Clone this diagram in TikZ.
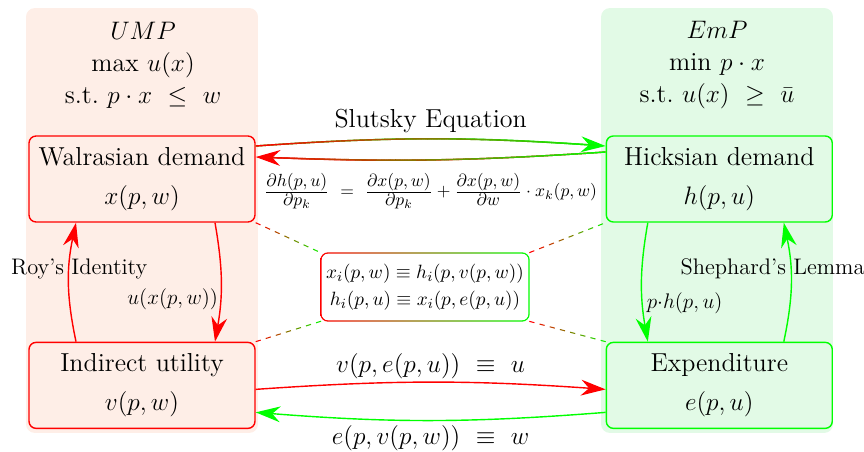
\documentclass[tikz,border=0pt]{standalone}
\usepackage{amsmath,amssymb}
\usepackage{xcolor}
\usetikzlibrary{arrows.meta,positioning,decorations.markings}

\definecolor{umpbg}{RGB}{254,238,231}
\definecolor{empbg}{RGB}{226,250,230}
\definecolor{umpline}{RGB}{255,0,0}
\definecolor{empline}{RGB}{0,255,0}

% colour running along a path, from #1 to #2
\tikzset{
  gradline/.style 2 args={postaction={decorate, decoration={markings,
      mark=between positions 0 and 0.96 step 0.5pt with {
        \pgfmathtruncatemacro\gradpct{\pgfkeysvalueof{/pgf/decoration/mark info/distance from start}/\pgfdecoratedpathlength*100}
        \draw[-, line width=0.8pt, color=#2!\gradpct!#1] (0,0) -- (0.8pt,0);}}}},
  graddash/.style 2 args={decorate, decoration={markings,
      mark=between positions 0 and 1 step 6pt with {
        \pgfmathtruncatemacro\gradpct{\pgfkeysvalueof{/pgf/decoration/mark info/distance from start}/\pgfdecoratedpathlength*100}
        \draw[-, solid, line width=0.6pt, color=#2!\gradpct!#1] (0,0) -- (3pt,0);}}},
}

\begin{document}
\begin{tikzpicture}[x=0.02cm, y=0.02cm,
      zone/.style={rounded corners=5pt, minimum width=4.64cm, minimum height=8.5cm, inner sep=0pt},
      conc/.style={draw, thick, rounded corners=4pt, minimum width=4.52cm, minimum height=1.72cm,
                   inner sep=0pt, align=center, font=\fontsize{14.8}{22}\selectfont},
      title/.style={align=center, font=\fontsize{14.8}{18.3}\selectfont},
      big/.style={text=black, font=\fontsize{14.8}{18}\selectfont},
      lbl/.style={text=black, font=\fontsize{12.8}{15}\selectfont, inner sep=1pt},
      idbox/.style={minimum width=4.16cm, minimum height=1.36cm, inner sep=0pt, align=center,
                    font=\fontsize{11}{15.4}\selectfont},
      arr/.style={-{Stealth[length=14pt, width=9pt]}, thick}
  ]
    \useasboundingbox (0,0) rectangle (864,-452);

    % the two problems
    \node[zone, fill=umpbg] (umpzone) at (142,-220.5) {};
    \node[zone, fill=empbg] (empzone) at (717,-220.5) {};
    \node[title] (umptitle) at (143,-65) {$UMP$\\ max $u(x)$\\ s.t.\ $p\cdot x\ \leq\ w$};
    \node[title] (emptitle) at (717,-65) {$EmP$\\ min $p\cdot x$\\ s.t.\ $u(x)\ \geq\ \bar{u}$};

    \node[conc, draw=umpline, fill=umpbg] (walras) at (142,-179) {Walrasian demand\\ $x(p,w)$};
    \node[conc, draw=empline, fill=empbg, right=7cm of walras] (hicks) {Hicksian demand\\ $h(p,u)$};
    \node[conc, draw=umpline, fill=umpbg, below=2.38cm of walras] (indir) {Indirect utility\\ $v(p,w)$};
    \node[conc, draw=empline, fill=empbg, below=2.38cm of hicks] (expend) {Expenditure\\ $e(p,u)$};

    % identities in the middle
    \shade[left color=umpline, right color=empline, rounded corners=4.4pt]
      (320.3,-321.7) rectangle (529.7,-252.3);
    \fill[white, rounded corners=3.6pt] (321.7,-320.3) rectangle (528.3,-253.7);
    \node[idbox] (ident) at (425,-287)
      {$x_i(p,w) \equiv h_i(p,v(p,w))$\\ $h_i(p,u) \equiv x_i(p,e(p,u))$};

    \path[graddash={umpline}{empline}] (walras.south east) -- (ident.north west);
    \path[graddash={umpline}{empline}] (ident.north east) -- (hicks.south west);
    \path[graddash={umpline}{empline}] (indir.north east) -- (ident.south west);
    \path[graddash={umpline}{empline}] (ident.south east) -- (expend.north west);

    % Slutsky
    \draw[arr, empline, gradline={umpline}{empline}]
      ([yshift=0.66cm]walras.east) to[bend left=4]
      node[midway, above=0pt, big] (slutlbl) {Slutsky Equation}
      ([yshift=0.66cm]hicks.west);
    \draw[arr, umpline, gradline={empline}{umpline}]
      ([yshift=0.54cm]hicks.west) to[bend left=3]
      node[midway, below=4pt, text=black, font=\fontsize{10.4}{12}\selectfont] (slutform)
        {$\frac{\textstyle\partial h(p,u)}{\textstyle\partial p_k}\ =\ \frac{\textstyle\partial x(p,w)}{\textstyle\partial p_k} + \frac{\textstyle\partial x(p,w)}{\textstyle\partial w}\cdot x_k(p,w)$}
      ([yshift=0.44cm]walras.east);

    % within each problem
    \draw[arr, umpline] ([xshift=-1.32cm]indir.north) to[bend left=12]
      node[pos=.62, lbl, xshift=0.2cm] (roylbl) {Roy's Identity}
      ([xshift=-1.32cm]walras.south);
    \draw[arr, umpline] ([xshift=1.46cm]walras.south) to[bend left=10]
      node[pos=.65, lbl, anchor=east] (utillbl) {$u(x(p,w))$}
      ([xshift=1.46cm]indir.north);
    \draw[arr, empline] ([xshift=-1.43cm]hicks.south) to[bend right=10]
      node[pos=.69, lbl, anchor=west, inner sep=2pt] (costlbl) {$p{\cdot}h(p,u)$}
      ([xshift=-1.43cm]expend.north);
    \draw[arr, empline] ([xshift=1.29cm]expend.north) to[bend right=12]
      node[pos=.62, lbl, xshift=-0.36cm] (shephlbl) {Shephard's Lemma}
      ([xshift=1.29cm]hicks.south);

    % duality
    \draw[arr, umpline] ([yshift=-0.08cm]indir.east) to[bend left=4]
      node[midway, above=-2pt, big] (duallbl) {$v(p,e(p,u))\ \equiv\ u$}
      ([yshift=-0.08cm]expend.west);
    \draw[arr, empline] ([yshift=-0.54cm]expend.west) to[bend left=4.5]
      node[midway, below=-1pt, big] (duallbl2) {$e(p,v(p,w))\ \equiv\ w$}
      ([yshift=-0.54cm]indir.east);
\end{tikzpicture}
\end{document}
